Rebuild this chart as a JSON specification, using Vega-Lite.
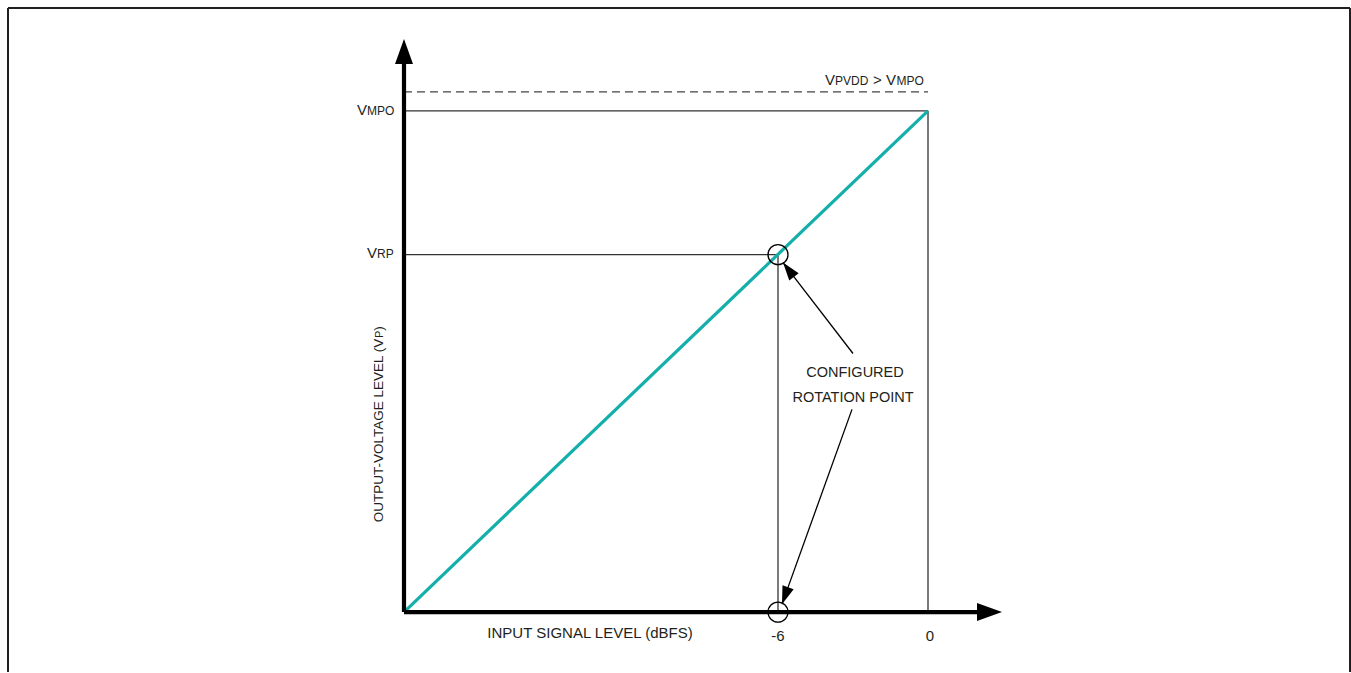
{
  "$schema": "https://vega.github.io/schema/vega-lite/v6.json",
  "width": 1351,
  "height": 673,
  "autosize": {"type": "fit", "contains": "padding"},
  "padding": 0,
  "background": "white",
  "config": {"view": {"stroke": null}},
  "datasets": {
    "frame": [
      {"x": -36.8, "y": 1.2052, "x2": 16.88, "y2": 1.2052},
      {"x": -36.8, "y": 1.2052, "x2": -36.8, "y2": -0.1195},
      {"x": 16.88, "y": 1.2052, "x2": 16.88, "y2": -0.1195}
    ],
    "thin": [
      {"x": -20.96, "y": 1.0, "x2": 0, "y2": 1.0},
      {"x": -20.96, "y": 0.7131, "x2": -6, "y2": 0.7131},
      {"x": -6, "y": 0, "x2": -6, "y2": 0.7131},
      {"x": 0, "y": 0, "x2": 0, "y2": 1.0}
    ],
    "dashed": [{"x": -20.96, "y": 1.0378, "x2": 0, "y2": 1.0378}],
    "transfer": [{"x": -20.96, "y": 0, "x2": 0, "y2": 1.0}],
    "axes": [
      {"x": -20.96, "y": 0, "x2": -20.96, "y2": 1.0936},
      {"x": -20.96, "y": 0, "x2": 1.96, "y2": 0}
    ],
    "pointers": [
      {"x": -3.0, "y": 0.5159, "x2": -5.8, "y2": 0.6972},
      {"x": -3.04, "y": 0.4044, "x2": -5.84, "y2": 0.0159}
    ],
    "circles": [{"x": -6, "y": 0.7131}, {"x": -6, "y": 0}],
    "heads": [
      {"name": "yaxis", "x": -20.96, "y": 1.1434},
      {"name": "xaxis", "x": 2.96, "y": 0},
      {"name": "upper", "x": -5.8, "y": 0.6972},
      {"name": "lower", "x": -5.84, "y": 0.0159}
    ],
    "labels": [
      {"kind": "main", "text": "V", "x": -22.84, "y": 0.992},
      {"kind": "sub", "text": "MPO", "x": -22.44, "y": 0.992},
      {"kind": "main", "text": "V", "x": -22.44, "y": 0.7072},
      {"kind": "sub", "text": "RP", "x": -22.04, "y": 0.7072},
      {"kind": "main", "text": "V", "x": -4.12, "y": 1.0518},
      {"kind": "sub", "text": "PVDD", "x": -3.72, "y": 1.0518},
      {"kind": "main", "text": ">", "x": -2.2, "y": 1.0518},
      {"kind": "main", "text": "V", "x": -1.68, "y": 1.0518},
      {"kind": "sub", "text": "MPO", "x": -1.26, "y": 1.0518},
      {"kind": "tick", "text": "-6", "x": -6, "y": -0.0578},
      {"kind": "tick", "text": "0", "x": 0.08, "y": -0.0578},
      {"kind": "tick", "text": "INPUT SIGNAL LEVEL (dBFS)", "x": -13.52, "y": -0.0518},
      {"kind": "note", "text": "CONFIGURED", "x": -2.92, "y": 0.4681},
      {"kind": "note", "text": "ROTATION POINT", "x": -3.0, "y": 0.4183},
      {"kind": "vmain", "text": "OUTPUT-VOLTAGE LEVEL (V", "x": -21.8, "y": 0.1793},
      {"kind": "vsub", "text": "P", "x": -21.8, "y": 0.5468},
      {"kind": "vmain", "text": ")", "x": -21.8, "y": 0.5615}
    ]
  },
  "encoding": {
    "x": {"field": "x", "type": "quantitative", "scale": {"domain": [-37.12, 16.92], "nice": false, "zero": false}, "axis": null},
    "y": {"field": "y", "type": "quantitative", "scale": {"domain": [-0.1195, 1.2211], "nice": false, "zero": false}, "axis": null}
  },
  "layer": [
    {"data": {"name": "frame"}, "mark": {"type": "rule", "stroke": "#231f20", "strokeWidth": 2}, "encoding": {"x2": {"field": "x2"}, "y2": {"field": "y2"}}},
    {"data": {"name": "thin"}, "mark": {"type": "rule", "stroke": "#333333", "strokeWidth": 1.3}, "encoding": {"x2": {"field": "x2"}, "y2": {"field": "y2"}}},
    {"data": {"name": "dashed"}, "mark": {"type": "rule", "stroke": "#444444", "strokeWidth": 1.3, "strokeDash": [8, 5]}, "encoding": {"x2": {"field": "x2"}, "y2": {"field": "y2"}}},
    {"data": {"name": "transfer"}, "mark": {"type": "rule", "stroke": "#14afaa", "strokeWidth": 3.2}, "encoding": {"x2": {"field": "x2"}, "y2": {"field": "y2"}}},
    {"data": {"name": "axes"}, "mark": {"type": "rule", "stroke": "#000000", "strokeWidth": 4.2}, "encoding": {"x2": {"field": "x2"}, "y2": {"field": "y2"}}},
    {"data": {"name": "pointers"}, "mark": {"type": "rule", "stroke": "#000000", "strokeWidth": 1.3}, "encoding": {"x2": {"field": "x2"}, "y2": {"field": "y2"}}},
    {"data": {"name": "circles"}, "mark": {"type": "point", "shape": "circle", "size": 400, "filled": false, "stroke": "#000000", "strokeWidth": 1.3, "opacity": 1}},
    {"data": {"name": "heads"}, "transform": [{"filter": "datum.name === 'yaxis'"}], "mark": {"type": "point", "shape": "M0,0L0.36,1L-0.36,1Z", "size": 2500, "filled": true, "fill": "#000000", "strokeWidth": 0, "opacity": 1, "angle": 0}},
    {"data": {"name": "heads"}, "transform": [{"filter": "datum.name === 'xaxis'"}], "mark": {"type": "point", "shape": "M0,0L0.36,1L-0.36,1Z", "size": 2500, "filled": true, "fill": "#000000", "strokeWidth": 0, "opacity": 1, "angle": 90}},
    {"data": {"name": "heads"}, "transform": [{"filter": "datum.name === 'upper'"}], "mark": {"type": "point", "shape": "M0,0L0.33,1L-0.33,1Z", "size": 1296, "filled": true, "fill": "#000000", "strokeWidth": 0, "opacity": 1, "angle": 322.4}},
    {"data": {"name": "heads"}, "transform": [{"filter": "datum.name === 'lower'"}], "mark": {"type": "point", "shape": "M0,0L0.33,1L-0.33,1Z", "size": 1296, "filled": true, "fill": "#000000", "strokeWidth": 0, "opacity": 1, "angle": 199.75}},
    {"data": {"name": "labels"}, "transform": [{"filter": "datum.kind === 'main'"}], "mark": {"type": "text", "align": "left", "baseline": "alphabetic", "font": "Liberation Sans, Arial, sans-serif", "fontSize": 15, "fill": "#231f20"}, "encoding": {"text": {"field": "text"}}},
    {"data": {"name": "labels"}, "transform": [{"filter": "datum.kind === 'sub'"}], "mark": {"type": "text", "align": "left", "baseline": "alphabetic", "font": "Liberation Sans, Arial, sans-serif", "fontSize": 12, "fill": "#231f20"}, "encoding": {"text": {"field": "text"}}},
    {"data": {"name": "labels"}, "transform": [{"filter": "datum.kind === 'tick'"}], "mark": {"type": "text", "align": "center", "baseline": "alphabetic", "font": "Liberation Sans, Arial, sans-serif", "fontSize": 15, "fill": "#231f20"}, "encoding": {"text": {"field": "text"}}},
    {"data": {"name": "labels"}, "transform": [{"filter": "datum.kind === 'note'"}], "mark": {"type": "text", "align": "center", "baseline": "alphabetic", "font": "Liberation Sans, Arial, sans-serif", "fontSize": 14.5, "fill": "#231f20"}, "encoding": {"text": {"field": "text"}}},
    {"data": {"name": "labels"}, "transform": [{"filter": "datum.kind === 'vmain'"}], "mark": {"type": "text", "align": "left", "baseline": "alphabetic", "angle": 270, "font": "Liberation Sans, Arial, sans-serif", "fontSize": 13.5, "fill": "#231f20"}, "encoding": {"text": {"field": "text"}}},
    {"data": {"name": "labels"}, "transform": [{"filter": "datum.kind === 'vsub'"}], "mark": {"type": "text", "align": "left", "baseline": "alphabetic", "angle": 270, "font": "Liberation Sans, Arial, sans-serif", "fontSize": 11, "fill": "#231f20"}, "encoding": {"text": {"field": "text"}}}
  ]
}
